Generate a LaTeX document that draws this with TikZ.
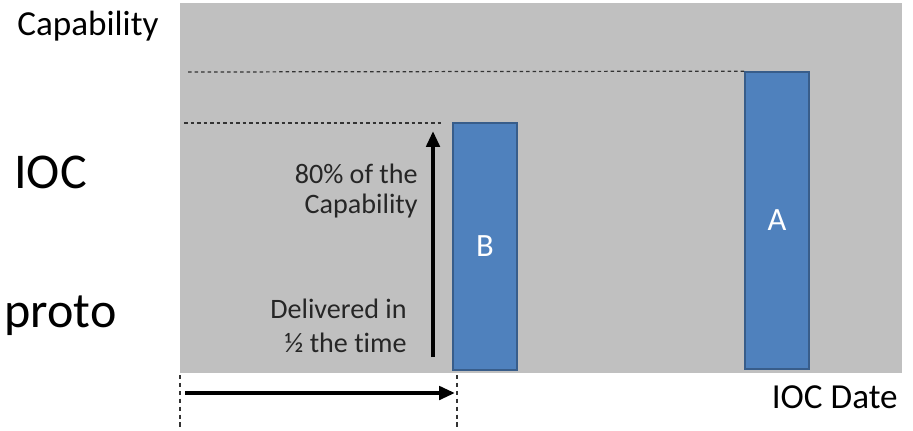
\documentclass[tikz,border=0pt]{standalone}
\usepackage{fontspec}
\setmainfont{Carlito}[Ligatures=NoCommon]
\usetikzlibrary{arrows.meta}

\definecolor{panelgray}{RGB}{192,192,192}
\definecolor{barblue}{RGB}{79,129,189}
\definecolor{barline}{RGB}{56,93,138}
\definecolor{inktext}{RGB}{38,38,38}

\begin{document}
\begin{tikzpicture}[x=0.02cm,y=-0.02cm,
  >={Triangle[length=9pt,width=7.5pt]},
  big label/.style={inner sep=0pt,font=\fontsize{28.5}{32}\selectfont},
  axis label/.style={inner sep=0pt,font=\fontsize{20}{24}\selectfont},
  note/.style={inner sep=0pt,text=inktext,font=\fontsize{16}{19}\selectfont},
  bar/.style={rectangle,draw=barline,line width=1pt,fill=barblue,text=white,
    minimum width=1.28cm,inner sep=0pt,font=\fontsize{18.5}{22}\selectfont},
  level line/.style={draw=black!80,line width=0.7pt,dash pattern=on 2pt off 1.7pt},
  date line/.style={draw=black!80,line width=0.6pt,dash pattern=on 2.5pt off 2pt},
  span arrow/.style={->,line width=2.5pt}]
  \useasboundingbox (0,0) rectangle (913,430);
  \fill[panelgray] (180,3) rectangle (902,373);

  \node[axis label,anchor=base west] (cap) at (17,35) {Capability};
  \node[big label,anchor=base west] (ioc) at (14,188) {IOC};
  \node[big label,anchor=base west] (proto) at (4,327) {proto};
  \node[axis label,anchor=base east] (date) at (898,408) {IOC Date};

  \node[bar,minimum height=4.94cm] (B) at (485,246.5) {B};
  \node[bar,minimum height=5.94cm] (A) at (777,220.5) {A};

  \node[note,anchor=base east] (pct) at (418,183) {80\% of the};
  \node[note,anchor=base east] (pct2) at (418,213) {Capability};
  \node[note,anchor=base east] (half) at (407,318) {Delivered in};
  \node[note,anchor=base east] (half2) at (407,352) {½ the time};

  \coordinate (lvlA) at (188,72);
  \coordinate (lvlB) at (184,123);
  \coordinate (lvlBend) at (443,123);
  \coordinate (upS) at (433,357);
  \coordinate (upE) at (433,131);
  \coordinate (spanS) at (185,393);
  \coordinate (spanE) at (455,393);
  \coordinate (t0top) at (180,375);
  \coordinate (t0bot) at (180,430);
  \coordinate (t1top) at (457,375);
  \coordinate (t1bot) at (457,430);

  \draw[level line] (lvlA) -- (A.north west);
  \draw[level line] (lvlB) -- (lvlBend);
  \draw[span arrow] (upS) -- (upE);
  \draw[span arrow] (spanS) -- (spanE);
  \draw[date line] (t0top) -- (t0bot);
  \draw[date line] (t1top) -- (t1bot);
\end{tikzpicture}
\end{document}
